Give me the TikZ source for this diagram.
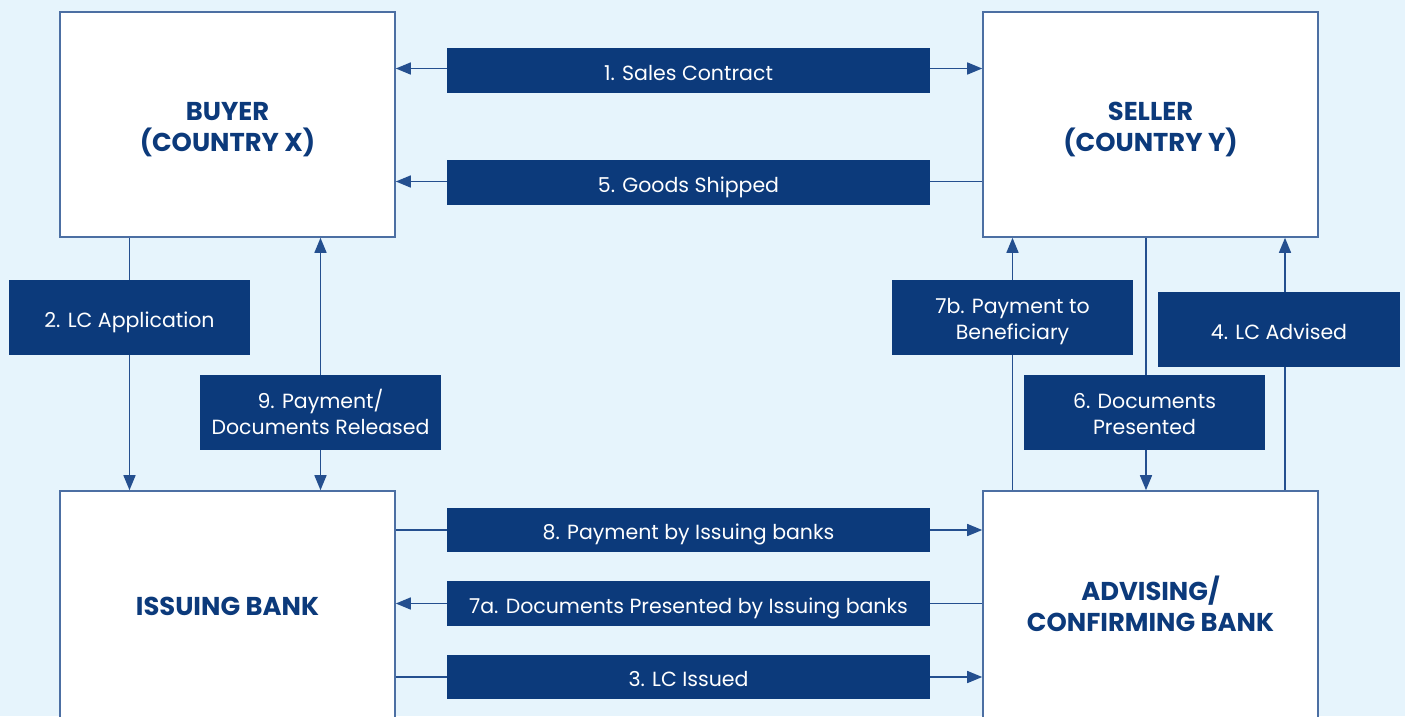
\documentclass[tikz,border=0pt]{standalone}
\usepackage{fontspec}
\setmainfont{Poppins}
\usetikzlibrary{arrows.meta}
\definecolor{bgc}{HTML}{E6F4FC}
\definecolor{navy}{HTML}{0C3A7B}
\definecolor{frame}{HTML}{4C6FA3}
\definecolor{linec}{HTML}{244F8F}
\tikzset{
  mainbox/.style={draw=frame, line width=1.6pt, fill=white, rectangle, inner sep=0pt},
  maintxt/.style={text=navy, font=\fontsize{25.8}{31.5}\selectfont\bfseries, align=center, anchor=base, inner sep=0pt},
  lbl/.style={fill=navy, rectangle, inner sep=0pt},
  lbltxt/.style={text=white, inner sep=0pt, align=center, anchor=base,
     font=\fontsize{20.5}{26}\selectfont},
  conn/.style={draw=linec, line width=1.5pt},
  arr/.style={conn, -{Triangle[length=15pt,width=12pt]}},
}
\begin{document}
\begin{tikzpicture}[x=1pt,y=-1pt]
\fill[bgc] (0,0) rectangle (1405,716);
\useasboundingbox (0,0) rectangle (1405,716);
\begin{scope}
\clip (0,0) rectangle (1405,716);
% main boxes
\node[mainbox, minimum width=335pt, minimum height=225pt] (buyer) at (227.5,124.5) {};
\node[maintxt] (buyertxt) at (227.5,151.5) {BUYER\\(COUNTRY X)};
\node[mainbox, minimum width=335pt, minimum height=225pt] (seller) at (1150.5,124.5) {};
\node[maintxt] (sellertxt) at (1150.5,151.5) {SELLER\\(COUNTRY Y)};
\node[mainbox, minimum width=335pt, minimum height=250pt] (issuing) at (227.5,616) {};
\node[maintxt] (issuingtxt) at (227.5,615) {ISSUING BANK};
\node[mainbox, minimum width=335pt, minimum height=250pt] (advising) at (1150.5,616) {};
\node[maintxt] (advisingtxt) at (1150.5,631.5) {ADVISING/\\CONFIRMING BANK};

% horizontal labels
\node[lbl, minimum width=483pt, minimum height=45pt] (l1) at (688.5,70.5) {};
\node[lbltxt] (t1) at (688.5,80) {1. Sales Contract};
\node[lbl, minimum width=483pt, minimum height=45pt] (l5) at (688.5,182.5) {};
\node[lbltxt] (t5) at (688.5,192) {5. Goods Shipped};
\node[lbl, minimum width=483pt, minimum height=44pt] (l8) at (688.5,530) {};
\node[lbltxt] (t8) at (688.5,539.5) {8. Payment by Issuing banks};
\node[lbl, minimum width=483pt, minimum height=45pt] (l7a) at (688.5,603.5) {};
\node[lbltxt] (t7a) at (688.5,613) {7a. Documents Presented by Issuing banks};
\node[lbl, minimum width=483pt, minimum height=44pt] (l3) at (688.5,677) {};
\node[lbltxt] (t3) at (688.5,686.5) {3. LC Issued};

% vertical labels
\node[lbl, minimum width=241pt, minimum height=75pt] (l2) at (129.5,317.5) {};
\node[lbltxt] (t2) at (129.5,327) {2. LC Application};
\node[lbl, minimum width=241pt, minimum height=75pt] (l9) at (320.5,412.5) {};
\node[lbltxt] (t9) at (320.5,434.3) {9. Payment/\\Documents Released};
\node[lbl, minimum width=241pt, minimum height=75pt] (l7b) at (1012.5,317.5) {};
\node[lbltxt] (t7b) at (1012.5,339.3) {7b. Payment to\\Beneficiary};
\node[lbl, minimum width=241pt, minimum height=75pt] (l6) at (1144.5,412.5) {};
\node[lbltxt] (t6) at (1144.5,434.3) {6. Documents\\Presented};
\node[lbl, minimum width=242pt, minimum height=75pt] (l4) at (1279,329.5) {};
\node[lbltxt] (t4) at (1279,339) {4. LC Advised};

% connectors: horizontal
\draw[arr] ([yshift=2pt]l1.west) -- ([yshift=2pt]l1.west -| buyer.east);
\draw[arr] ([yshift=2pt]l1.east) -- ([yshift=2pt]l1.east -| seller.west);
\draw[conn] ([yshift=1pt]seller.west |- l5.east) -- ([yshift=1pt]l5.east);
\draw[arr] ([yshift=1pt]l5.west) -- ([yshift=1pt]l5.west -| buyer.east);
\draw[conn] (issuing.east |- l8.west) -- (l8.west);
\draw[arr] (l8.east) -- (l8.east -| advising.west);
\draw[conn] (advising.west |- l7a.east) -- (l7a.east);
\draw[arr] (l7a.west) -- (l7a.west -| issuing.east);
\draw[conn] (issuing.east |- l3.west) -- (l3.west);
\draw[arr] (l3.east) -- (l3.east -| advising.west);

% connectors: vertical
\draw[conn] (buyer.south -| l2.north) -- (l2.north);
\draw[arr] (l2.south) -- (l2.south |- issuing.north);
\draw[arr] (l9.north) -- (l9.north |- buyer.south);
\draw[arr] (l9.south) -- (l9.south |- issuing.north);
\draw[conn] (advising.north -| l7b.south) -- (l7b.south);
\draw[arr] (l7b.north) -- (l7b.north |- seller.south);
\draw[conn] ([xshift=1.5pt]seller.south -| l6.north) -- ([xshift=1.5pt]l6.north);
\draw[arr] ([xshift=1.5pt]l6.south) -- ([xshift=1.5pt]l6.south |- advising.north);
\draw[conn] ([xshift=6pt]advising.north -| l4.south) -- ([xshift=6pt]l4.south);
\draw[arr] ([xshift=6pt]l4.north) -- ([xshift=6pt]l4.north |- seller.south);
\end{scope}
\end{tikzpicture}
\end{document}
